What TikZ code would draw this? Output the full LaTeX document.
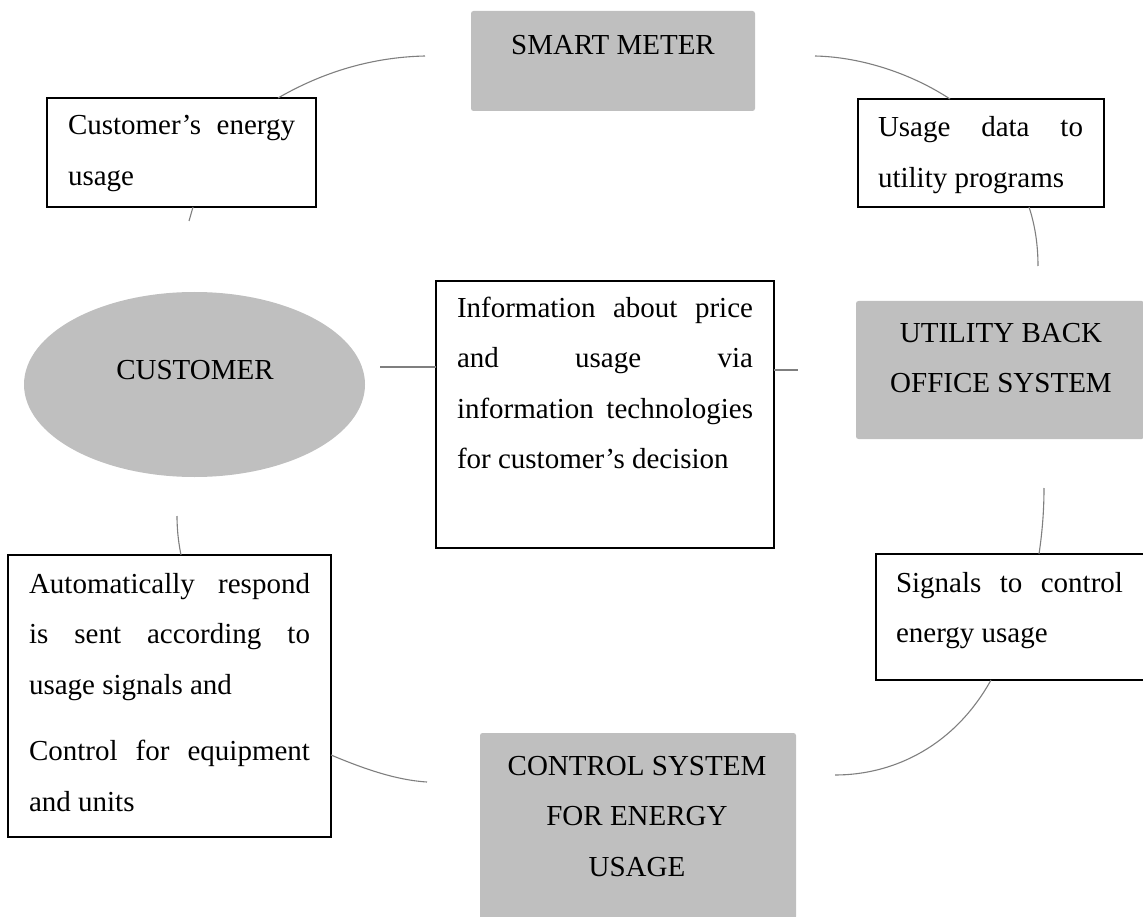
\documentclass[tikz,border=0pt]{standalone}
\usepackage{fontspec}
\setmainfont{Liberation Serif}
\usetikzlibrary{shapes.geometric,calc}
\definecolor{blockgray}{HTML}{BFBFBF}
\definecolor{linkgray}{HTML}{7F7F7F}
\newcommand{\bodyfont}{\fontsize{29}{50.5}\selectfont}
\begin{document}
\begin{tikzpicture}[x=1pt,y=-1pt,
  grayblock/.style={fill=blockgray,draw=none,rounded corners=2.5pt,inner sep=0pt,outer sep=0pt,anchor=north west},
  textbox/.style={draw=black,line width=1.3pt,fill=white,inner sep=0pt,outer sep=0pt,anchor=north west},
  link/.style={draw=linkgray,line width=1.1pt},
  label/.style={inner sep=0pt,outer sep=0pt,anchor=base west},
  clabel/.style={inner sep=0pt,outer sep=0pt,anchor=base}]
\useasboundingbox (0,0) rectangle (1143,917);

% grey blocks: the four parties of the loop
\node[grayblock,minimum width=284pt,minimum height=100pt] (meter) at (471,11) {};
\node[grayblock,minimum width=288pt,minimum height=138pt] (utility) at (856,301) {};
\node[grayblock,minimum width=316pt,minimum height=186pt] (control) at (480,733) {};
\node[ellipse,fill=blockgray,draw=none,inner sep=0pt,outer sep=0pt,
      minimum width=341pt,minimum height=185pt] (customer) at (194.5,384.5) {};

\node[clabel] (meterT) at (613,55) {\bodyfont SMART METER};
\node[clabel] (utilityT) at (1001,342) {\parbox[t]{280pt}{\centering\bodyfont UTILITY BACK\\OFFICE SYSTEM}};
\node[clabel] (controlT) at (637,775) {\parbox[t]{300pt}{\centering\bodyfont CONTROL SYSTEM\\FOR ENERGY\\USAGE}};
\node[clabel] (customerT) at (195,379) {\bodyfont CUSTOMER};

% framed boxes: the flows between the parties
\node[textbox,minimum width=269pt,minimum height=109pt] (cusbox) at (47,98) {};
\node[textbox,minimum width=246pt,minimum height=108pt] (usebox) at (858,99) {};
\node[textbox,minimum width=338pt,minimum height=267pt] (infobox) at (436,281) {};
\node[textbox,minimum width=323pt,minimum height=282pt] (autobox) at (8,555) {};
\node[textbox,minimum width=268pt,minimum height=126pt] (sigbox) at (876,554) {};

\node[label] (cusT) at (68,135) {\parbox[t]{227pt}{\bodyfont
  Customer’s\hfill energy\\usage}};
\node[label] (useT) at (878,137) {\parbox[t]{205pt}{\bodyfont
  Usage\hfill data\hfill to\\utility programs}};
\node[label] (infoT) at (457,317) {\parbox[t]{296pt}{\bodyfont
  Information\hfill about\hfill price\\
  and\hfill usage\hfill via\\
  information\hfill technologies\\
  for customer’s decision}};
\node[label] (autoT) at (29,593) {\parbox[t]{281pt}{\bodyfont\setlength{\parskip}{16pt}%
  Automatically\hfill respond\\
  is\hfill sent\hfill according\hfill to\\
  usage signals and\par
  Control\hfill for\hfill equipment\\
  and units}};
\node[label] (sigT) at (896,592) {\parbox[t]{227pt}{\bodyfont
  Signals\hfill to\hfill control\\energy usage}};

% connector ends
\coordinate (a1) at ($(cusbox.north west)+(231,0)$);
\coordinate (a2) at (425,56);
\coordinate (b1) at (815,56);
\coordinate (b2) at ($(usebox.north west)+(92,0)$);
\coordinate (c1) at ($(usebox.south west)+(171,0)$);
\coordinate (c2) at (1038,266);
\coordinate (d1) at ($(infobox.north east)+(0,89)$);
\coordinate (d2) at (798,370);
\coordinate (e1) at (1044,488);
\coordinate (e2) at ($(sigbox.north west)+(163,0)$);
\coordinate (f1) at ($(sigbox.south west)+(115,0)$);
\coordinate (f2) at (835,775);
\coordinate (g1) at ($(autobox.north east)+(0,200)$);
\coordinate (g2) at (427,782);
\coordinate (h1) at (177,516);
\coordinate (h2) at ($(autobox.north west)+(173,0)$);
\coordinate (i1) at ($(cusbox.south west)+(146,0)$);
\coordinate (i2) at (189,221);
\coordinate (j1) at (380,367);
\coordinate (j2) at ($(infobox.north west)+(0,86)$);

% the loop of connectors
\draw[link] (a1) .. controls (330,68) and (380,57) .. (a2);
\draw[link] (b1) .. controls (862,57) and (912,74) .. (b2);
\draw[link] (c1) .. controls (1035,225) and (1038,245) .. (c2);
\draw[link] (d1) -- (d2);
\draw[link] (e1) .. controls (1044,512) and (1042,534) .. (e2);
\draw[link] (f1) .. controls (955,745) and (895,775) .. (f2);
\draw[link] (g1) .. controls (362,768) and (395,780) .. (g2);
\draw[link] (h1) .. controls (177,532) and (179,545) .. (h2);
\draw[link] (i1) -- (i2);
\draw[link] (j1) -- (j2);
\end{tikzpicture}
\end{document}
